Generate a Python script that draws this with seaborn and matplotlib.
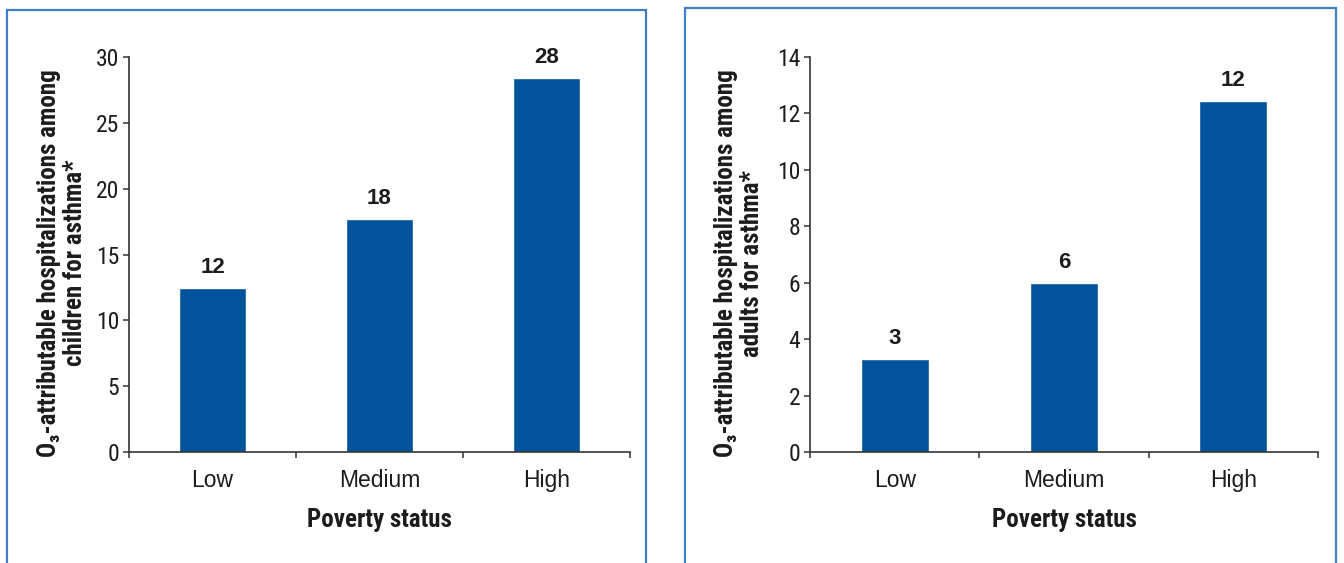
import matplotlib
matplotlib.use("Agg")
import matplotlib.pyplot as plt
from matplotlib.patches import Rectangle
import seaborn as sns

# Data
categories = ["Low", "Medium", "High"]
children_values = [12.45, 17.7, 28.4]
adult_values = [3.3, 6.0, 12.45]
children_ticks = [0, 5, 10, 15, 20, 25, 30]
adult_ticks = [0, 2, 4, 6, 8, 10, 12, 14]
children_ylabel = "O\u2083-attributable hospitalizations among\nchildren for asthma*"
adult_ylabel = "O\u2083-attributable hospitalizations among\nadults for asthma*"
xlabel = "Poverty status"

sns.set_theme(style="white")
REGULAR = ["Liberation Sans", "Arial", "DejaVu Sans"]
NARROW = ["Liberation Sans Narrow", "Roboto Condensed", "DejaVu Sans"]
plt.rcParams["font.family"] = REGULAR

BAR = "#02529c"
FRAME = "#3f7fc8"
INK = "#1c1c1c"
AXIS = "#333333"

narrow_kw = dict(family=NARROW, stretch="condensed")

fig = plt.figure(figsize=(13.44, 5.63), dpi=100)

# Blue panel frames
for x0, y0, x1 in [(7, 10, 646), (685, 8, 1336)]:
    fig.patches.append(Rectangle((x0 / 1344, -0.02), (x1 - x0) / 1344,
                                 1 - y0 / 563 + 0.02, transform=fig.transFigure,
                                 fill=False, edgecolor=FRAME, linewidth=1.6))

panels = [
    (129, 630, children_values, children_ticks, children_ylabel, -0.084),
    (810, 1318, adult_values, adult_ticks, adult_ylabel, -0.090),
]

for x0, x1, values, ticks, ylab, ylab_x in panels:
    ax = fig.add_axes([x0 / 1344, 1 - 452 / 563, (x1 - x0) / 1344, (452 - 57) / 563])
    sns.barplot(x=categories, y=values, ax=ax, color=BAR, saturation=1, width=0.4)
    ax.set_xlim(-0.5, 2.5)
    ax.set_ylim(ticks[0], ticks[-1])
    ax.set_yticks(ticks)
    ax.set_yticklabels([str(t) for t in ticks], fontsize=17, color=INK, **narrow_kw)
    ax.set_xticks([0, 1, 2])
    ax.set_xticklabels(categories, fontsize=16.5, color=INK)
    ax.set_xticks([-0.5, 0.5, 1.5, 2.5], minor=True)
    ax.tick_params(axis="x", which="major", length=0, pad=12)
    ax.tick_params(axis="x", which="minor", length=4, width=1.1, color=AXIS, direction="out", bottom=True)
    ax.tick_params(axis="y", length=4, width=1.1, color=AXIS, direction="out", left=True, pad=3)
    for side in ("top", "right"):
        ax.spines[side].set_visible(False)
    for side in ("left", "bottom"):
        ax.spines[side].set_color(AXIS)
        ax.spines[side].set_linewidth(1.2)
    ax.set_xlabel(xlabel, fontsize=18, fontweight="bold", color=INK, labelpad=12, **narrow_kw)
    ax.set_ylabel(ylab, fontsize=18, fontweight="bold", color=INK,
                  linespacing=1.1, **narrow_kw)
    ax.yaxis.set_label_coords(ylab_x, 0.478)
    for cont in ax.containers:
        ax.bar_label(cont, labels=[f"{v:.0f}" for v in values], padding=7,
                     fontsize=16, fontweight="bold", color=INK)
    ax.set_facecolor("none")

fig.savefig("out.png", dpi=100, facecolor="white")
